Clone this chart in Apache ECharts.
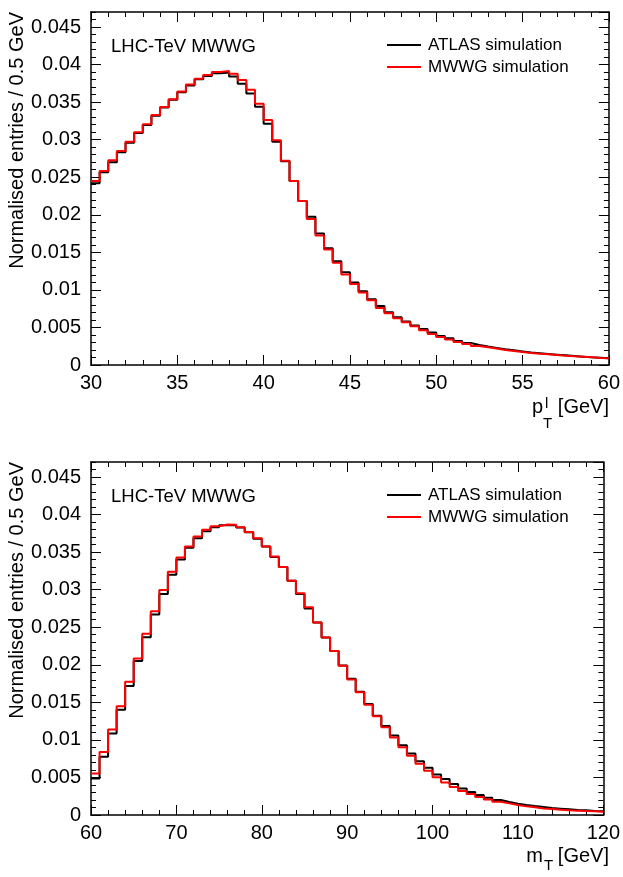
<!DOCTYPE html>
<html>
<head>
<meta charset="utf-8">
<script src="https://cdn.jsdelivr.net/npm/echarts@6/dist/echarts.min.js"></script>
<style>
  html, body { margin: 0; padding: 0; background: #fff; }
  #chart { width: 623px; height: 877px; }
</style>
</head>
<body>
<div id="chart"></div>
<script>
const FONT = '"Liberation Sans", Arial, Helvetica, sans-serif';

// lepton pT, 30-60 GeV in 0.5 GeV bins
const ptMin = 30, ptMax = 60, ptBinWidth = 0.5;
const ptAtlas = [
  0.02419, 0.02565, 0.02699, 0.02832, 0.02960, 0.03090, 0.03196, 0.03320, 0.03427, 0.03533,
  0.03632, 0.03720, 0.03805, 0.03849, 0.03885, 0.03893, 0.03840, 0.03745, 0.03615, 0.03440,
  0.03211, 0.02973, 0.02712, 0.02449, 0.02183, 0.01973, 0.01752, 0.01556, 0.01383, 0.01236,
  0.01098, 0.00983, 0.00876, 0.00787, 0.00703, 0.00636, 0.00579, 0.00525, 0.00480, 0.00432,
  0.00387, 0.00356, 0.00320, 0.00293, 0.00267, 0.00245, 0.00227, 0.00209, 0.00195, 0.00181,
  0.00165, 0.00156, 0.00147, 0.00138, 0.00129, 0.00120, 0.00111, 0.00102, 0.00098, 0.00090
];
const ptMwwg = [
  0.02449, 0.02583, 0.02725, 0.02850, 0.02973, 0.03099, 0.03205, 0.03330, 0.03436, 0.03538,
  0.03640, 0.03735, 0.03812, 0.03861, 0.03900, 0.03916, 0.03878, 0.03794, 0.03665, 0.03478,
  0.03261, 0.02994, 0.02720, 0.02449, 0.02183, 0.01943, 0.01725, 0.01538, 0.01360, 0.01205,
  0.01080, 0.00965, 0.00863, 0.00760, 0.00689, 0.00623, 0.00569, 0.00516, 0.00463, 0.00413,
  0.00373, 0.00339, 0.00307, 0.00280, 0.00253, 0.00236, 0.00219, 0.00200, 0.00187, 0.00173,
  0.00160, 0.00151, 0.00143, 0.00133, 0.00124, 0.00116, 0.00111, 0.00102, 0.00093, 0.00090
];

// transverse mass, 60-120 GeV in 1 GeV bins
const mtMin = 60, mtMax = 120, mtBinWidth = 1;
const mtAtlas = [
  0.00487, 0.00774, 0.01084, 0.01403, 0.01717, 0.02049, 0.02367, 0.02668, 0.02943, 0.03199,
  0.03403, 0.03558, 0.03686, 0.03779, 0.03832, 0.03859, 0.03859, 0.03828, 0.03764, 0.03677,
  0.03575, 0.03434, 0.03301, 0.03120, 0.02943, 0.02748, 0.02562, 0.02363, 0.02183, 0.01992,
  0.01814, 0.01642, 0.01478, 0.01323, 0.01186, 0.01058, 0.00929, 0.00819, 0.00717, 0.00628,
  0.00540, 0.00478, 0.00412, 0.00354, 0.00305, 0.00266, 0.00230, 0.00199, 0.00173, 0.00150,
  0.00133, 0.00119, 0.00106, 0.00093, 0.00084, 0.00075, 0.00066, 0.00062, 0.00053, 0.00049
];
const mtMwwg = [
  0.00553, 0.00840, 0.01137, 0.01447, 0.01774, 0.02084, 0.02412, 0.02713, 0.02996, 0.03239,
  0.03429, 0.03575, 0.03708, 0.03797, 0.03845, 0.03867, 0.03863, 0.03832, 0.03768, 0.03686,
  0.03575, 0.03443, 0.03301, 0.03120, 0.02951, 0.02766, 0.02562, 0.02363, 0.02183, 0.01987,
  0.01805, 0.01633, 0.01469, 0.01314, 0.01168, 0.01031, 0.00903, 0.00788, 0.00681, 0.00589,
  0.00504, 0.00434, 0.00372, 0.00319, 0.00279, 0.00239, 0.00208, 0.00177, 0.00155, 0.00133,
  0.00115, 0.00102, 0.00088, 0.00080, 0.00071, 0.00062, 0.00058, 0.00053, 0.00049, 0.00044
];

const yMax = 0.047;
const seriesNames = ['ATLAS simulation', 'MWWG simulation'];

// histogram -> [lowEdge, value] points, plus closing point at the last upper edge
function toSteps(vals, x0, w) {
  const pts = vals.map((v, i) => [x0 + i * w, v]);
  pts.push([x0 + vals.length * w, vals[vals.length - 1]]);
  return pts;
}

const tickLine = { color: '#000', width: 1 };

function xAxes(gridIndex, min, max, interval) {
  return [false, true].map(top => ({
    type: 'value', gridIndex, min, max, interval,
    position: top ? 'top' : 'bottom',
    axisLine: { show: true, onZero: false, lineStyle: { color: '#000', width: 1.5 } },
    axisTick: { show: true, inside: true, length: 10, lineStyle: tickLine },
    minorTick: { show: true, splitNumber: 5, length: 5, lineStyle: tickLine },
    axisLabel: { show: !top, margin: 8, color: '#000', fontSize: 20, fontFamily: FONT },
    splitLine: { show: false }
  }));
}

function yAxes(gridIndex) {
  const out = [];
  ['left', 'right'].forEach(pos => {
    out.push({
      type: 'value', gridIndex, min: 0, max: yMax, interval: 0.005, position: pos,
      axisLine: { show: true, onZero: false, lineStyle: { color: '#000', width: 1.5 } },
      axisTick: { show: true, inside: true, length: 10, lineStyle: tickLine },
      axisLabel: { show: pos === 'left', showMaxLabel: false, margin: 10, color: '#000', fontSize: 20, fontFamily: FONT },
      splitLine: { show: false }
    });
    // minor ticks every 0.001
    out.push({
      type: 'value', gridIndex, min: 0, max: yMax, interval: 0.001, position: pos,
      axisLine: { show: false },
      axisTick: { show: true, inside: true, length: 5, lineStyle: tickLine },
      axisLabel: { show: false },
      splitLine: { show: false }
    });
  });
  return out;
}

function histSeries(name, color, vals, x0, w, xIdx, yIdx) {
  return {
    name, type: 'line', step: 'end', showSymbol: false, symbol: 'none',
    xAxisIndex: xIdx, yAxisIndex: yIdx,
    lineStyle: { color, width: 2 }, itemStyle: { color },
    data: toSteps(vals, x0, w)
  };
}

function legendAt(top) {
  return {
    data: seriesNames, orient: 'vertical', left: 387, top, padding: 0,
    icon: 'rect', itemWidth: 34, itemHeight: 2, itemGap: 5, selectedMode: false,
    textStyle: { fontSize: 17, fontFamily: FONT, color: '#000', lineHeight: 17, padding: [0, 0, 0, 2] }
  };
}

function txt(text, x, y, size, align, extra) {
  return Object.assign({
    type: 'text', x, y, silent: true,
    style: { text, fontSize: size, fontFamily: FONT, fill: '#000',
      align, textAlign: align, verticalAlign: 'middle', textVerticalAlign: 'middle' }
  }, extra || {});
}

const panelShift = 450;
const graphics = [];
[0, 1].forEach(p => {
  const dy = p * panelShift;
  graphics.push(txt('LHC-TeV MWWG', 111, 46.7 + dy, 18.5, 'left'));
  graphics.push(txt('Normalised entries / 0.5 GeV', 17, 12 + dy, 20, 'right', { rotation: Math.PI / 2 }));
});
// x titles
graphics.push(txt('[GeV]', 609, 407, 20, 'right'));
graphics.push(txt('p', 543, 407, 20, 'right'));
graphics.push(txt('l', 545, 404, 15, 'left'));
graphics.push(txt('T', 543, 424, 15, 'left'));
graphics.push(txt('[GeV]', 609, 856, 20, 'right'));
graphics.push(txt('m', 543, 856, 20, 'right'));
graphics.push(txt('T', 544, 866, 15, 'left'));

const option = {
  animation: false,
  backgroundColor: '#fff',
  grid: [
    { left: 91, top: 12, right: 13.5, height: 353 },
    { left: 91, top: 462, right: 13.5, height: 353 }
  ],
  xAxis: [...xAxes(0, ptMin, ptMax, 5), ...xAxes(1, mtMin, mtMax, 10)],
  yAxis: [...yAxes(0), ...yAxes(1)],
  legend: [legendAt(36.5), legendAt(36.5 + panelShift)],
  series: [
    histSeries(seriesNames[0], '#000000', ptAtlas, ptMin, ptBinWidth, 0, 0),
    histSeries(seriesNames[1], '#ff0000', ptMwwg, ptMin, ptBinWidth, 0, 0),
    histSeries(seriesNames[0], '#000000', mtAtlas, mtMin, mtBinWidth, 2, 4),
    histSeries(seriesNames[1], '#ff0000', mtMwwg, mtMin, mtBinWidth, 2, 4)
  ],
  graphic: graphics
};

const myChart = echarts.init(document.getElementById('chart'));
myChart.setOption(option);
</script>
</body>
</html>
